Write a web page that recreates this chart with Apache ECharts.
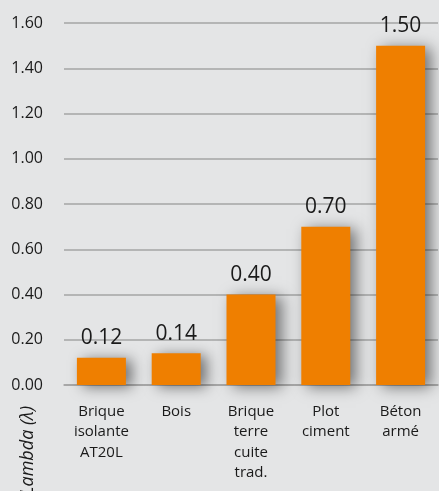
<!DOCTYPE html>
<html>
<head>
<meta charset="utf-8">
<script src="https://cdn.jsdelivr.net/npm/echarts@6/dist/echarts.min.js"></script>
<style>
  html, body { margin: 0; padding: 0; background: #e4e5e6; }
  #chart { width: 439px; height: 491px; }
</style>
</head>
<body>
<div id="chart"></div>
<script>
// catégories et valeurs lambda
var categories = ['Brique\nisolante\nAT20L', 'Bois', 'Brique\nterre\ncuite\ntrad.', 'Plot\nciment', 'Béton\narmé'];
var lambdaValues = [0.12, 0.14, 0.40, 0.70, 1.50];
var yTicks = [0, 0.2, 0.4, 0.6, 0.8, 1.0, 1.2, 1.4, 1.6];

var myChart = echarts.init(document.getElementById('chart'));
var fontName = '"Open Sans", sans-serif';

var option = {
    backgroundColor: '#e4e5e6',
    animation: false,
    grid: {
        left: 64,
        right: 1,
        top: 23,
        bottom: 106
    },
    xAxis: {
        type: 'category',
        data: categories,
        axisLine: { show: true, lineStyle: { color: '#a4a4a4', width: 1.5 } },
        axisTick: { show: false },
        axisLabel: {
            color: '#1a1a1a',
            fontFamily: fontName,
            fontSize: 15,
            lineHeight: 20.5,
            margin: 16,
            interval: 0
        }
    },
    yAxis: {
        type: 'value',
        min: yTicks[0],
        max: yTicks[yTicks.length - 1],
        interval: 0.2,
        axisLine: { show: false },
        axisTick: { show: false },
        splitLine: { lineStyle: { color: '#a4a4a4', width: 1.5 } },
        axisLabel: {
            color: '#1a1a1a',
            fontFamily: fontName,
            fontSize: 16,
            margin: 21,
            formatter: function (v) { return v.toFixed(2); }
        }
    },
    graphic: [{
        type: 'text',
        left: 19,
        top: 406,
        rotation: Math.PI / 2,
        style: {
            text: 'Lambda (λ)',
            fill: '#1a1a1a',
            font: 'italic 18px "Open Sans", sans-serif'
        }
    }],
    series: [{
        type: 'bar',
        data: lambdaValues,
        barWidth: 49,
        itemStyle: {
            color: '#ef7f00',
            shadowBlur: 14,
            shadowColor: 'rgba(0,0,0,0.5)',
            shadowOffsetX: 6,
            shadowOffsetY: 2
        },
        label: {
            show: true,
            position: 'top',
            distance: 9,
            color: '#1a1a1a',
            fontFamily: fontName,
            fontSize: 21,
            formatter: function (p) { return p.value.toFixed(2); }
        }
    }]
};

if (option && typeof option === "object") {
    myChart.setOption(option, true);
}
</script>
</body>
</html>
